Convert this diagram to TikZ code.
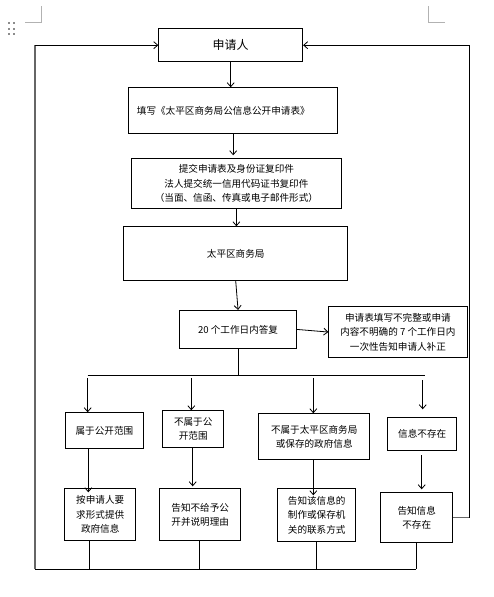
\documentclass[tikz,border=0pt]{standalone}
\usepackage{fontspec}
\setmainfont{Noto Sans CJK SC}
\usetikzlibrary{arrows.meta,calc}
\begin{document}
\begin{tikzpicture}[x=1pt,y=-1pt,
  box/.style={draw, line width=0.8pt, inner sep=0pt, align=center, anchor=north west,
    font=\fontsize{9.6}{14.4}\selectfont},
  arr/.style={-{Straight Barb[length=4pt,width=7pt]}, line width=0.8pt},
  ln/.style={line width=0.8pt},
  gln/.style={line width=1.3pt, draw=black!60},
  cornermark/.style={line width=0.6pt, draw=black!30},
  dotbox/.style={fill=black!45, draw=none, minimum size=2.2pt, inner sep=0pt}]
\useasboundingbox (0,0) rectangle (494,597);

% page artifacts
\draw[cornermark] (25,22) -- (41.3,22) -- (41.3,6);
\draw[cornermark] (445,22) -- (428,22) -- (428,6);
\foreach \i/\xx in {1/8.7,2/14.3}
  \foreach \j/\yy in {1/23.3,2/28.7,3/34.3}
    \node[dotbox] (d\i\j) at (\xx,\yy) {};

% nodes
\node[box, minimum width=144pt, minimum height=33pt, font=\fontsize{12}{14}\selectfont] (top) at (158.3,28.3) {申请人};
\node[box, minimum width=209pt, minimum height=46pt, text width=192.6pt, align=left] (fill) at (128.3,87.3) {填写《太平区商务局公信息公开申请表》};
\node[box, minimum width=210.6pt, minimum height=50pt] (submit) at (130.7,158.3) {提交申请表及身份证复印件\\法人提交统一信用代码证书复印件\\（当面、信函、传真或电子邮件形式）};
\node[box, minimum width=224pt, minimum height=53.7pt] (bureau) at (123.3,226.3) {太平区商务局};
\node[box, minimum width=116.7pt, minimum height=38pt] (c20) at (179.3,310) {20 个工作日内答复};
\node[box, minimum width=138.4pt, minimum height=51.3pt] (fix) at (328.3,306) {申请表填写不完整或申请\\内容不明确的 7 个工作日内\\一次性告知申请人补正};

\node[box, minimum width=77.4pt, minimum height=36pt] (a1) at (65.3,412.3) {属于公开范围};
\node[box, minimum width=61pt, minimum height=37pt] (b1) at (162.3,410.3) {不属于公\\开范围};
\node[box, minimum width=111pt, minimum height=46pt] (c1) at (258.3,413.3) {不属于太平区商务局\\或保存的政府信息};
\node[box, minimum width=69pt, minimum height=33pt] (d1) at (387.3,417.3) {信息不存在};

\node[box, minimum width=71pt, minimum height=52pt] (a2) at (64.3,488.3) {按申请人要\\求形式提供\\政府信息};
\node[box, minimum width=81pt, minimum height=52pt] (b2) at (159.3,488.3) {告知不给予公\\开并说明理由};
\node[box, minimum width=78pt, minimum height=53pt] (c2) at (277.3,488.3) {告知该信息的\\制作或保存机\\关的联系方式};
\node[box, minimum width=72pt, minimum height=50pt] (d2) at (380.3,492.3) {告知信息\\不存在};

% coordinates
\coordinate (busL) at (87.7,375.3);
\coordinate (busR) at (425,375.3);
\coordinate (busM) at (238,375.3);
\coordinate (xa) at (87.7,378);
\coordinate (xb) at (191.3,378);
\coordinate (xc) at (313.3,378);
\coordinate (xd) at (422.7,378);
\coordinate (ya) at (88.3,0);
\coordinate (yb) at (192.7,0);
\coordinate (yc) at (313.3,0);
\coordinate (yd) at (421.7,0);
\coordinate (ba) at (89.3,569.3);
\coordinate (bb) at (199.3,569.3);
\coordinate (bc) at (316.3,569.3);
\coordinate (bd) at (416.3,569.3);
\coordinate (botL) at (35,569.3);
\coordinate (rx) at (469.3,0);

% main chain
\draw[arr] (top.south) -- (top.south |- fill.north);
\draw[arr] (fill.south) -- ($(fill.south |- submit.north)+(0,-3)$);
\draw[arr] (submit.south) -- (submit.south |- bureau.north);
\draw[arr] (bureau.south) -- (c20.north);
\draw[arr] (c20.east) -- (fix.west);
\draw[ln] (c20.south) -- (c20.south |- busM);
\draw[ln] (busL) -- (busR);

% branches
\draw[arr] (xa) -- (xa |- a1.north);
\draw[arr] (xb) -- (xb |- b1.north);
\draw[arr] (xc) -- (xc |- c1.north);
\draw[arr] ($(xd)+(0,2)$) -- ($(xd |- d1.north)+(0,-8)$);

\draw[arr] (a1.south -| ya) -- ($(ya |- a2.north)+(0,4)$);
\draw[arr] (b1.south -| yb) -- ($(yb |- b2.north)+(0,-2)$);
\draw[arr] (c1.south -| yc) -- ($(yc |- c2.north)+(0,7)$);
\draw[arr] ($(d1.south -| yd)+(0,4)$) -- ($(yd |- d2.north)+(0,-3)$);

% bottom collectors
\draw[ln] (a2.south -| ba) -- (ba);
\draw[ln] (b2.south -| bb) -- (bb);
\draw[ln] (c2.south -| bc) -- (bc);
\draw[ln] (d2.south -| bd) -- (bd);
\draw[ln] (botL) -- (bd);

% return loops
\draw[gln] (botL) -- (botL |- top.west);
\draw[arr] (botL |- top.west) -- (top.west);
\draw[gln] (d2.east) -- (d2.east -| rx);
\draw[ln] (d2.east -| rx) -- (top.east -| rx);
\draw[arr] (top.east -| rx) -- (top.east);
\end{tikzpicture}
\end{document}
